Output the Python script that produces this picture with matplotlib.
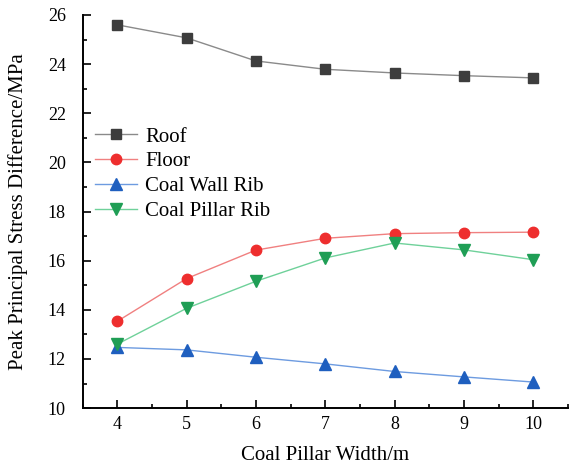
import matplotlib.pyplot as plt
from matplotlib.ticker import MultipleLocator

plt.rcParams['font.family'] = ['Liberation Serif', 'DejaVu Serif']

width = [4, 5, 6, 7, 8, 9, 10]
roof = [25.60, 25.07, 24.13, 23.79, 23.64, 23.53, 23.44]
floor = [13.53, 15.27, 16.43, 16.91, 17.10, 17.14, 17.16]
wall_rib = [12.47, 12.37, 12.07, 11.80, 11.49, 11.27, 11.06]
pillar_rib = [12.60, 14.06, 15.16, 16.11, 16.72, 16.44, 16.04]

series = [
    ("Roof", roof, "s", "#3d3d3d", "#8a8a8a", 7),
    ("Floor", floor, "o", "#ee2e2e", "#f08080", 7.5),
    ("Coal Wall Rib", wall_rib, "^", "#1f5fbf", "#6d9be0", 8),
    ("Coal Pillar Rib", pillar_rib, "v", "#1f9e55", "#6fd19a", 8),
]

fig = plt.figure(figsize=(5.69, 4.68), dpi=100)
ax = fig.add_axes([0.145, 0.128, 0.853, 0.84])

for label, vals, mk, mcol, lcol, ms in series:
    ax.plot(width, vals, color=lcol, lw=1.0, marker=mk, ms=ms,
            markerfacecolor=mcol, markeredgecolor=mcol, label=label)

ax.set_xlim(3.5, 10.5)
ax.set_ylim(10, 26)
ax.xaxis.set_major_locator(MultipleLocator(1))
ax.xaxis.set_minor_locator(MultipleLocator(0.5))
ax.yaxis.set_major_locator(MultipleLocator(2))
ax.yaxis.set_minor_locator(MultipleLocator(1))
ax.tick_params(which='both', direction='in', labelsize=13, width=1.2)
ax.tick_params(which='major', length=6)
ax.tick_params(which='minor', length=3)
ax.tick_params(axis='x', pad=6)
ax.tick_params(axis='y', pad=12)
for s in ['top', 'right']:
    ax.spines[s].set_visible(False)
for s in ['left', 'bottom']:
    ax.spines[s].set_linewidth(1.4)

ax.set_xlabel("Coal Pillar Width/m", fontsize=15, labelpad=9)
ax.set_ylabel("Peak Principal Stress Difference/MPa", fontsize=15, labelpad=14)

ax.legend(loc='upper left', bbox_to_anchor=(0.0, 0.747), frameon=False,
          fontsize=15, handlelength=2.0, handletextpad=0.4,
          labelspacing=0.25, borderpad=0.2, borderaxespad=0.4)

fig.savefig("out.png", dpi=100)
